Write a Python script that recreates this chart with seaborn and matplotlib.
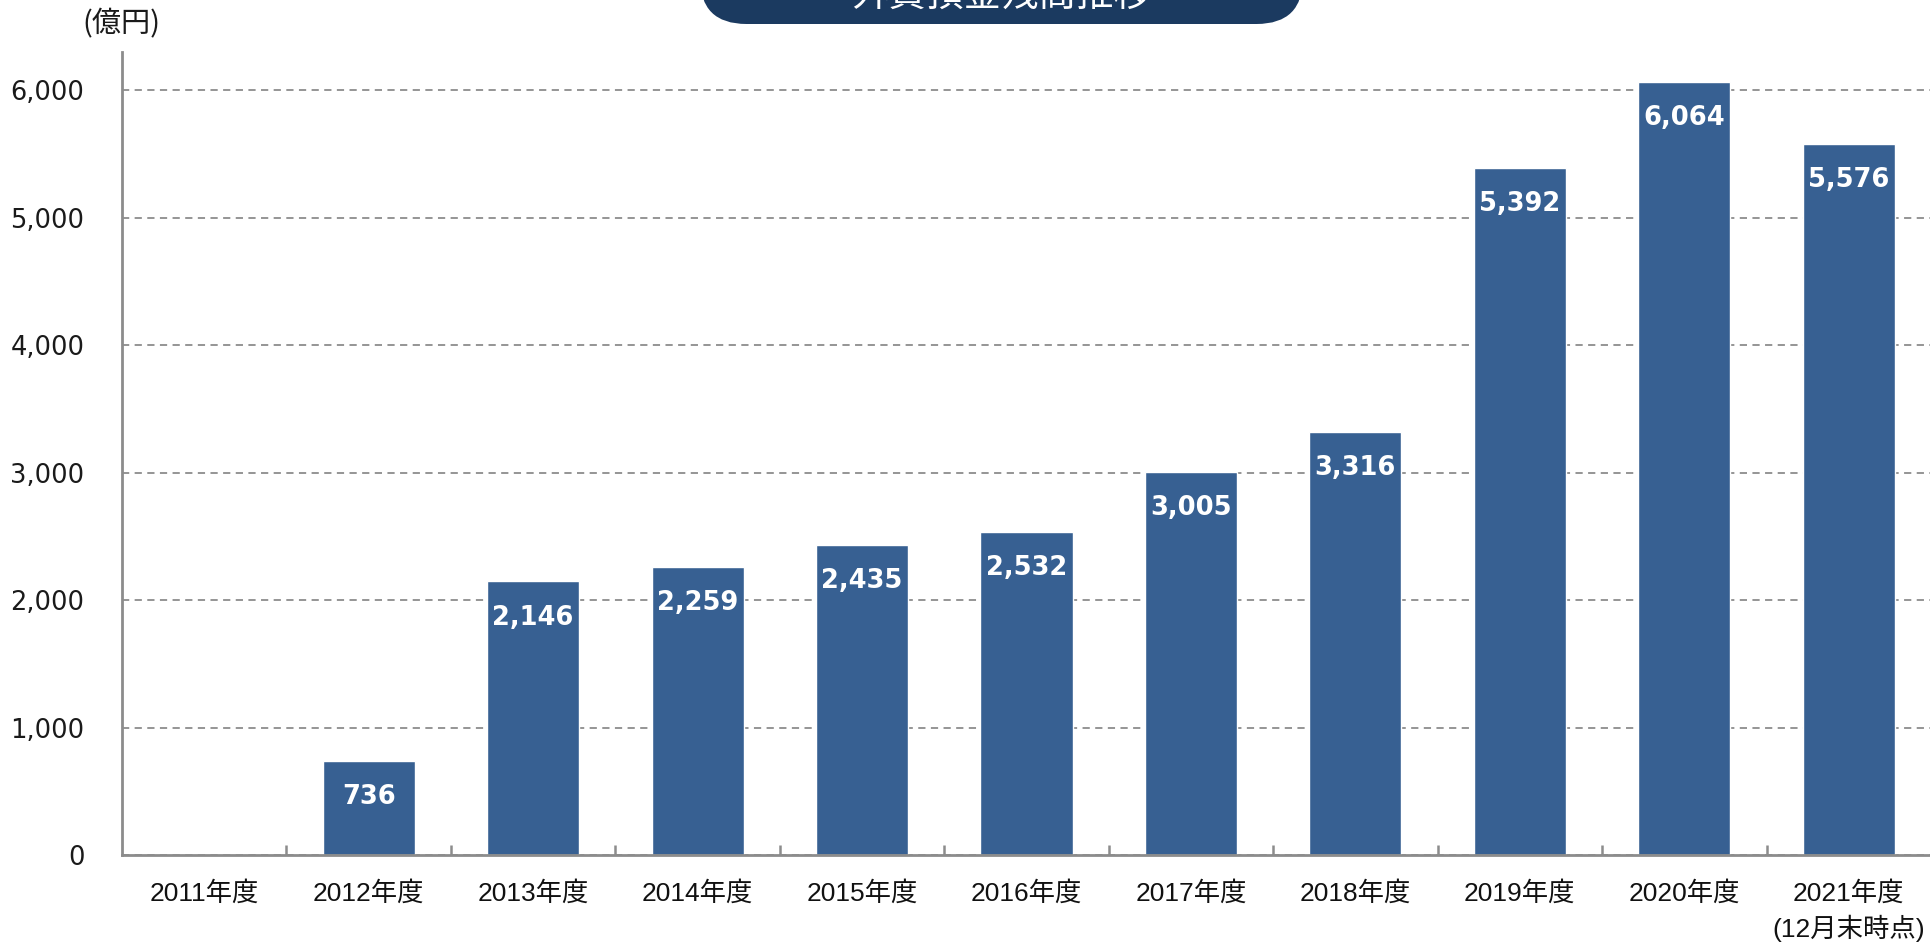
import matplotlib
matplotlib.use("Agg")
import matplotlib.pyplot as plt
import seaborn as sns
import pandas as pd
from matplotlib.patches import FancyBboxPatch
from matplotlib.ticker import FixedLocator

categories = ["2011年度", "2012年度", "2013年度", "2014年度", "2015年度", "2016年度",
              "2017年度", "2018年度", "2019年度", "2020年度", "2021年度\n(12月末時点)"]
values = [0, 736, 2146, 2259, 2435, 2532, 3005, 3316, 5392, 6064, 5576]
yticks = [0, 1000, 2000, 3000, 4000, 5000, 6000]
title = "外貨預金残高推移"
unit = "(億円)"

sns.set_theme(style="white")
plt.rcParams['font.family'] = ['DejaVu Sans', 'Noto Sans CJK JP']

W, H = 1931, 948
fig = plt.figure(figsize=(W / 100, H / 100), dpi=100)
ax = fig.add_axes([122 / W, (H - 855) / H, 1 - 122 / W, (855 - 52) / H])

df = pd.DataFrame({"cat": categories, "val": values})
sns.barplot(data=df, x="cat", y="val", color="#376092", width=0.56, ax=ax,
            saturation=1, zorder=3)

ax.set_xlim(-0.5, len(categories) - 0.5)
ax.set_ylim(0, 6300)
ax.set_yticks(yticks)
ax.set_yticklabels([f"{v:,}" for v in yticks])
ax.set_xlabel("")
ax.set_ylabel("")

for s in ["top", "right"]:
    ax.spines[s].set_visible(False)
for s in ["left", "bottom"]:
    ax.spines[s].set_color("#8c8c8c")
    ax.spines[s].set_linewidth(2)
    ax.spines[s].set_zorder(4)

ax.yaxis.grid(True, linestyle=(0, (4, 3)), color="#8c8c8c", linewidth=1.3, zorder=0)
ax.set_axisbelow(True)

ax.tick_params(axis="y", length=0, pad=27, labelsize=18.5, labelcolor="#1a1a1a")
ax.tick_params(axis="x", which="major", length=0, pad=19, labelsize=19, labelcolor="#111111")
for lab in ax.get_xticklabels():
    lab.set_family(['Liberation Sans', 'Noto Sans CJK JP'])
    lab.set_linespacing(1.4)
    lab.set_verticalalignment("top")

ax.xaxis.set_minor_locator(FixedLocator([i + 0.5 for i in range(len(categories) - 1)]))
ax.tick_params(axis="x", which="minor", bottom=True, direction="in", length=7, width=1.8,
               color="#8c8c8c")

for p, v in zip(ax.patches, values):
    if v <= 0:
        continue
    ax.annotate(f"{v:,}", (p.get_x() + p.get_width() / 2, p.get_height()),
                xytext=(0, -26), textcoords="offset points", ha="center", va="center",
                color="white", fontsize=18.5, fontweight="bold", zorder=5)

fig.text(82 / W, 1 - 24 / H, unit, ha="left", va="center", fontsize=21,
         family=['Noto Sans CJK JP', 'DejaVu Sans'], color="#1a1a1a")

box_x0, box_x1 = 700, 1303
box = FancyBboxPatch((box_x0 / W, 1 - 24 / H), (box_x1 - box_x0) / W, 80 / H,
                     boxstyle="round,pad=0,rounding_size=0.024",
                     transform=fig.transFigure, facecolor="#1b3a60", edgecolor="none",
                     mutation_aspect=W / H, clip_on=False)
fig.patches.append(box)
fig.text((box_x0 + box_x1) / 2 / W, 1 + 5 / H, title, ha="center", va="center",
         fontsize=27, color="white", family=['Noto Sans CJK JP', 'DejaVu Sans'])

fig.savefig("out.png", dpi=100)
